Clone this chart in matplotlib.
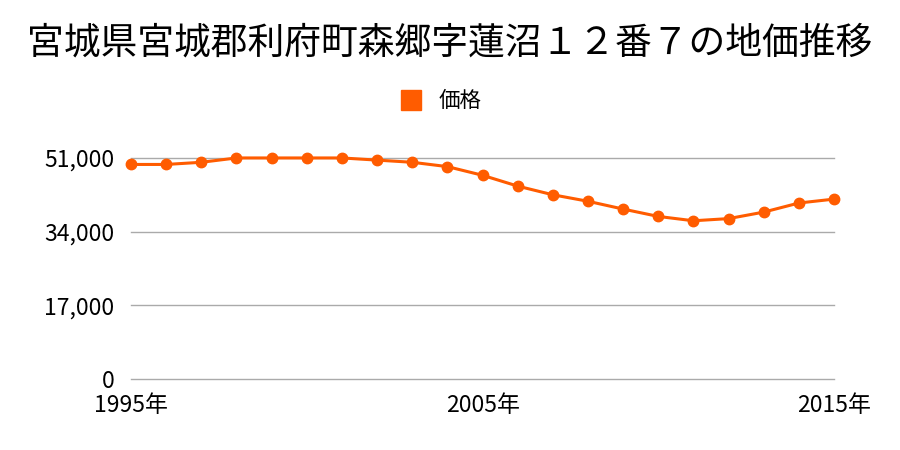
import matplotlib.pyplot as plt

plt.rcParams['font.family'] = ['Noto Sans CJK JP', 'DejaVu Sans']

years = list(range(1995, 2016))
prices = [49500, 49500, 50000, 51000, 51000, 51000, 51000, 50500, 50000, 49000,
          47000, 44500, 42500, 41000, 39200, 37500, 36500, 37000, 38500, 40600, 41500]
yticks = [0, 17000, 34000, 51000]
xticks = [1995, 2005, 2015]

title = "宮城県宮城郡利府町森郷字蓮沼１２番７の地価推移"
color = "#ff5c00"

fig = plt.figure(figsize=(9, 4.5), dpi=100)
ax = fig.add_axes([0.1456, 0.158, 0.7811, 0.491])

ax.plot(years, prices, color=color, lw=2.2, marker="o", ms=7.5, clip_on=False, zorder=3)

ax.set_xlim(1995, 2015)
ax.set_ylim(0, 51000)
ax.set_yticks(yticks)
ax.set_yticklabels([f"{v:,}" for v in yticks])
ax.set_xticks(xticks)
ax.set_xticklabels([f"{y}年" for y in xticks])
for v in yticks:
    ax.axhline(v, color="#aaaaaa", lw=1, clip_on=False, zorder=1)
for s in ax.spines.values():
    s.set_visible(False)
ax.tick_params(length=0, labelsize=16.5, colors="black")
ax.tick_params(axis="y", pad=12)
ax.tick_params(axis="x", pad=11)

fig.text(0.5, 0.905, title, ha="center", va="center", fontsize=26.5)
fig.legend(handles=[plt.Line2D([], [], color=color, marker="s", ls="none", ms=15)],
           labels=["価格"], loc="center", bbox_to_anchor=(0.484, 0.775), frameon=False,
           fontsize=15.5, handletextpad=0.3)

fig.savefig("out.png")
